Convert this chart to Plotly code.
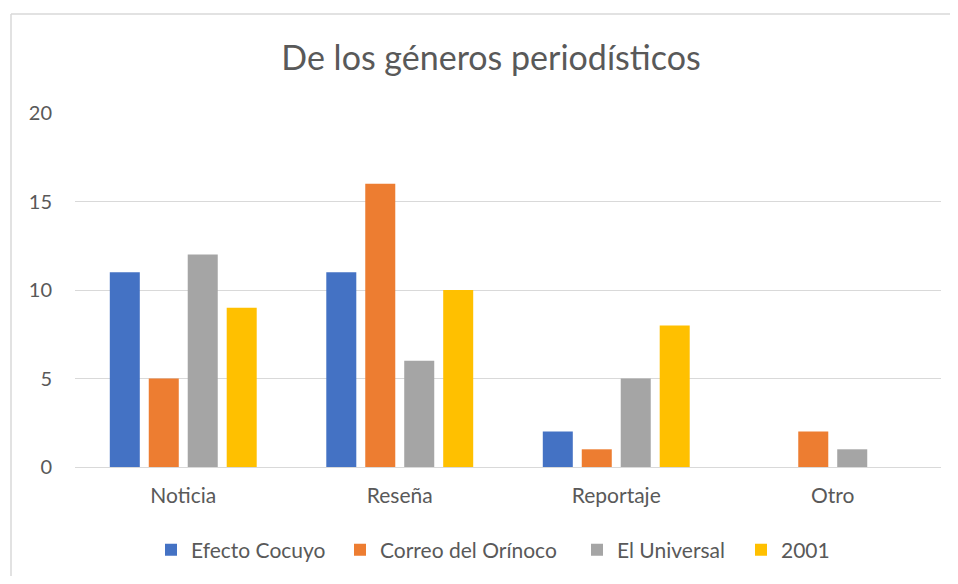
import plotly.graph_objects as go

categories = ["Noticia", "Reseña", "Reportaje", "Otro"]
series_names = ["Efecto Cocuyo", "Correo del Orínoco", "El Universal", "2001"]
efecto_cocuyo = [11, 11, 2, 0]
correo_orinoco = [5, 16, 1, 2]
el_universal = [12, 6, 5, 1]
s2001 = [9, 10, 8, 0]
colors = ["#4472C4", "#ED7D31", "#A5A5A5", "#FFC000"]

OFF = 8  # page body margin offset
FW, FH = 958 - 2 * OFF, 584 - 2 * OFF
L, T = 75 - OFF, 113 - OFF
R = FW - (941 - OFF)
B = FH - (467 - OFF)
pw, ph = FW - L - R, FH - T - B

# legend entry symbol positions (screen px, left edge of symbol)
legend_sym_x = [166, 355, 592, 756]
legend_ids = ["legend", "legend2", "legend3", "legend4"]

fig = go.Figure()
for name, vals, c, lid in zip(series_names, [efecto_cocuyo, correo_orinoco, el_universal, s2001], colors, legend_ids):
    fig.add_trace(go.Bar(name=name, x=categories, y=vals, marker_color=c, marker_line_width=0, legend=lid))

font = "Lato, 'Open Sans', sans-serif"
fig.update_layout(
    width=FW, height=FH,
    margin=dict(l=L, r=R, t=T, b=B, autoexpand=False),
    paper_bgcolor="white", plot_bgcolor="white",
    barmode="group", bargap=0.28, bargroupgap=0.23,
    font=dict(family=font, color="#595959", size=21),
    title=dict(text="De los géneros periodísticos", x=(491 - OFF) / FW, xanchor="center",
               y=1 - (58 - OFF) / FH, yanchor="middle", yref="container",
               font=dict(size=34, color="#595959", family=font)),
    showlegend=True,
)
for lid, sx in zip(legend_ids, legend_sym_x):
    fig.update_layout({lid: dict(orientation="h", x=(sx - 1 - 14 - OFF) / FW, xref="container", xanchor="left",
                                 y=1 - (550 - OFF) / FH, yref="container", yanchor="middle",
                                 font=dict(size=21, color="#595959"), itemwidth=30,
                                 bgcolor="rgba(0,0,0,0)")})
fig.update_yaxes(range=[0, 20], tickvals=[0, 5, 10, 15, 20], showgrid=True, gridcolor="#D9D9D9",
                 gridwidth=1, zeroline=False, showline=False, ticks="", ticklabelstandoff=22,
                 tickfont=dict(size=20, color="#595959"), fixedrange=True)
fig.update_xaxes(showline=True, linecolor="#D9D9D9", linewidth=1, ticks="", showgrid=False,
                 tickfont=dict(size=21, color="#595959"), ticklabelstandoff=10)

# outer chart border: only top and left edges fall inside the page
x0 = (11 - OFF - L) / pw
x1 = (FW + 20 - L) / pw
y1 = (ph + T - (14 - OFF)) / ph
y0 = (ph + T - (FH + 20)) / ph
border = dict(color="#D9D9D9", width=1.5)
fig.add_shape(type="line", xref="paper", yref="paper", x0=x0, x1=x1, y0=y1, y1=y1, line=border, layer="below")
fig.add_shape(type="line", xref="paper", yref="paper", x0=x0, x1=x0, y0=y0, y1=y1, line=border, layer="below")

fig.write_html("out.html")
